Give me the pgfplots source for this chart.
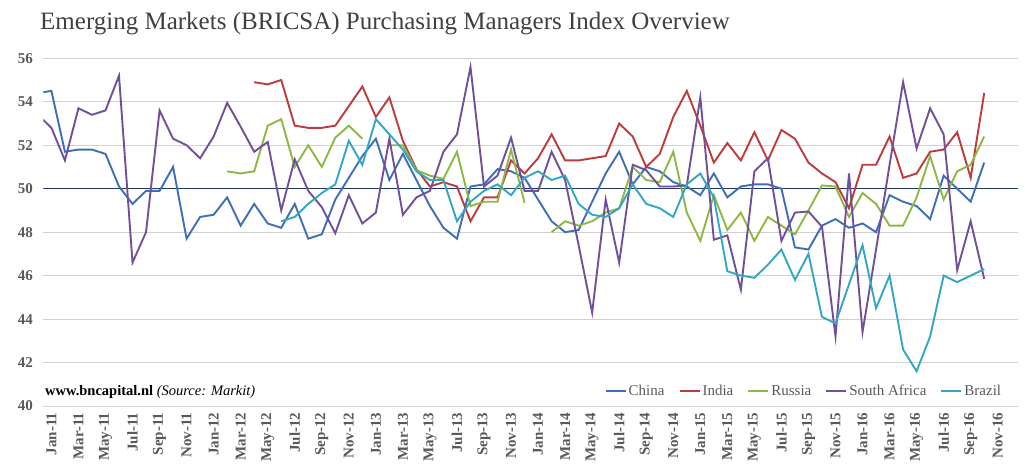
\documentclass[border=0pt]{standalone}
\usepackage{fontspec}
\setmainfont{Liberation Serif}
\usepackage{pgfplots}
\pgfplotsset{compat=1.18}
\usepackage{pgfplotstable}
\definecolor{cChina}{HTML}{3F6EB8}
\definecolor{cIndia}{HTML}{BE3A3C}
\definecolor{cRussia}{HTML}{8DB844}
\definecolor{cSA}{HTML}{70509A}
\definecolor{cBrazil}{HTML}{34A6C4}
\definecolor{cNavy}{HTML}{1F3864}
\definecolor{cText}{HTML}{595959}
\definecolor{cTitle}{HTML}{404040}
\pgfplotstableread{
x china india russia safrica brazil
-1 54.4 nan nan 53.4 nan
0 54.5 nan nan 52.8 nan
1 51.7 nan nan 51.3 nan
2 51.8 nan nan 53.7 nan
3 51.8 nan nan 53.4 nan
4 51.6 nan nan 53.6 nan
5 50.1 nan nan 55.2 nan
6 49.3 nan nan 46.6 nan
7 49.9 nan nan 48.0 nan
8 49.9 nan nan 53.6 nan
9 51.0 nan nan 52.3 nan
10 47.7 nan nan 52.0 nan
11 48.7 nan nan 51.4 nan
12 48.8 nan nan 52.4 nan
13 49.6 nan 50.8 53.95 nan
14 48.3 nan 50.7 52.85 nan
15 49.3 54.9 50.8 51.7 nan
16 48.4 54.8 52.9 52.15 nan
17 48.2 55.0 53.2 49.0 48.5
18 49.3 52.9 51.0 51.35 48.7
19 47.7 52.8 52.0 49.9 49.3
20 47.9 52.8 51.0 49.15 49.8
21 49.5 52.9 52.35 47.95 50.2
22 50.5 53.8 52.9 49.7 52.2
23 51.5 54.7 52.3 48.4 51.1
24 52.3 53.3 nan 48.9 53.2
25 50.4 54.2 52.0 52.3 52.5
26 51.6 52.2 52.0 48.8 51.8
27 50.4 50.9 50.85 49.6 50.8
28 49.2 50.1 50.6 49.9 50.4
29 48.2 50.3 50.45 51.7 50.4
30 47.7 50.1 51.7 52.5 48.5
31 50.1 48.5 49.2 55.6 49.4
32 50.2 49.6 49.4 50.1 49.9
33 50.9 49.6 49.4 50.6 50.2
34 50.8 51.3 51.8 52.35 49.7
35 50.5 50.7 49.35 49.9 50.5
36 49.5 51.4 nan 49.9 50.8
37 48.5 52.5 48.0 51.7 50.4
38 48.0 51.3 48.5 50.4 50.6
39 48.1 51.3 48.3 47.4 49.3
40 49.4 51.4 48.5 44.3 48.8
41 50.7 51.5 48.9 49.5 48.7
42 51.7 53.0 49.1 46.6 49.1
43 50.2 52.4 51.0 51.1 50.2
44 51.0 51.0 50.4 50.85 49.3
45 50.8 51.6 50.3 50.1 49.1
46 50.3 53.3 51.7 50.1 48.7
47 50.1 54.5 48.9 50.15 50.2
48 49.7 52.9 47.6 54.2 50.7
49 50.7 51.2 49.7 47.65 49.6
50 49.6 52.1 48.1 47.85 46.2
51 50.1 51.3 48.9 45.35 46.0
52 50.2 52.6 47.6 50.8 45.9
53 50.2 51.3 48.7 51.4 46.5
54 50.0 52.7 48.3 47.6 47.2
55 47.3 52.3 47.9 48.9 45.8
56 47.2 51.2 49.0 48.95 47.0
57 48.3 50.7 50.15 48.25 44.1
58 48.6 50.3 50.1 43.2 43.8
59 48.2 49.1 48.7 50.7 45.6
60 48.4 51.1 49.8 43.4 47.4
61 48.0 51.1 49.3 47.2 44.5
62 49.7 52.4 48.3 51.1 46.0
63 49.4 50.5 48.3 54.9 42.6
64 49.2 50.7 49.6 51.85 41.6
65 48.6 51.7 51.5 53.7 43.2
66 50.6 51.8 49.5 52.5 46.0
67 50.0 52.6 50.8 46.25 45.7
68 49.4 50.5 51.1 48.5 46.0
69 51.2 54.4 52.4 45.85 46.3
}\data
\begin{document}
\begin{tikzpicture}
\useasboundingbox (0,0) rectangle (1025pt,471pt);
\node[anchor=base west, inner sep=0pt, text=cTitle] at (40pt,441pt) {\fontsize{25}{28}\selectfont Emerging Markets (BRICSA) Purchasing Managers Index Overview};
\begin{axis}[
  at={(43.3pt,65pt)}, anchor=south west,
  scale only axis, width=974.7pt, height=347.7pt,
  xmin=-0.6, xmax=71.5, ymin=40, ymax=56,
  ytick={40,42,...,56},
  xtick={0,2,...,70},
  xticklabels={Jan-11,Mar-11,May-11,Jul-11,Sep-11,Nov-11,Jan-12,Mar-12,May-12,Jul-12,Sep-12,Nov-12,Jan-13,Mar-13,May-13,Jul-13,Sep-13,Nov-13,Jan-14,Mar-14,May-14,Jul-14,Sep-14,Nov-14,Jan-15,Mar-15,May-15,Jul-15,Sep-15,Nov-15,Jan-16,Mar-16,May-16,Jul-16,Sep-16,Nov-16},
  ymajorgrids, grid style={draw=black!18, line width=1pt},
  axis line style={draw=none}, major tick length=0pt,
  tick label style={text=cText, font=\fontsize{15}{17}\selectfont\bfseries},
  xticklabel style={rotate=90, anchor=east, xshift=-3pt},
  yticklabel style={anchor=east, xshift=-7pt},
  /pgf/number format/assume math mode=true,
  unbounded coords=jump,
  legend columns=5,
  legend style={at={(0.988,0.043)}, anchor=east, draw=none, fill=none,
    font=\fontsize{15}{17}\selectfont, text=cText,
    /tikz/every even column/.append style={column sep=12pt}},
  legend image code/.code={\draw[#1, line width=2pt] (0pt,0pt) -- (20pt,0pt);},
]
\addplot[cNavy, line width=1.3pt, forget plot] coordinates {(-0.6,50) (71.5,50)};
\addplot[cChina, line width=1.9pt] table[x=x,y=china]{\data};
\addplot[cIndia, line width=1.9pt] table[x=x,y=india]{\data};
\addplot[cRussia, line width=1.9pt] table[x=x,y=russia]{\data};
\addplot[cSA, line width=1.9pt] table[x=x,y=safrica]{\data};
\addplot[cBrazil, line width=1.9pt] table[x=x,y=brazil]{\data};
\legend{China,India,Russia,South Africa,Brazil}
\end{axis}
\node[anchor=base west, inner sep=0pt] at (45pt,75pt) {\fontsize{14.5}{16}\selectfont\textbf{www.bncapital.nl} \textit{(Source: Markit)}};
\end{tikzpicture}
\end{document}
